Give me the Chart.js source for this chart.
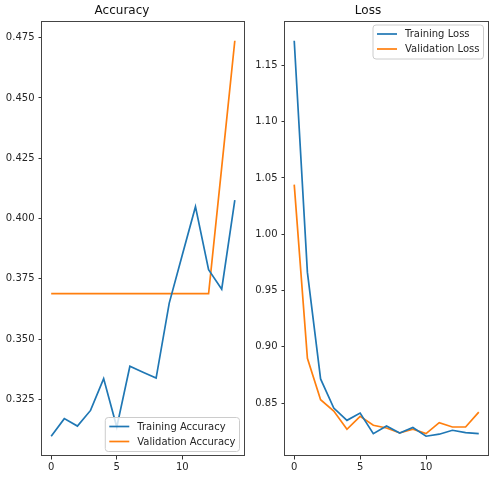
<!DOCTYPE html>
<html>
<head>
<meta charset="utf-8">
<script src="https://cdn.jsdelivr.net/npm/chart.js@4/dist/chart.umd.min.js"></script>
<style>
  body { margin: 0; background: #fff; }
  #wrap { position: relative; width: 496px; height: 478px; }
  canvas { position: absolute; top: 0; }
</style>
</head>
<body>
<div id="wrap">
  <canvas id="accChart" width="248" height="478" style="left:0"></canvas>
  <canvas id="lossChart" width="248" height="478" style="left:248px"></canvas>
</div>
<script>
// Data
const epochs = [0, 1, 2, 3, 4, 5, 6, 7, 8, 9, 10, 11, 12, 13, 14];
const trainAcc = [0.3097, 0.3170, 0.3139, 0.3204, 0.3336, 0.3135, 0.3387, 0.3362, 0.3338, 0.3649, 0.3850, 0.4049, 0.3788, 0.3707, 0.4076];
const valAcc = [0.3688, 0.3688, 0.3688, 0.3688, 0.3688, 0.3688, 0.3688, 0.3688, 0.3688, 0.3688, 0.3688, 0.3688, 0.3688, 0.4212, 0.4737];
const trainLoss = [1.1718, 0.9661, 0.8715, 0.8456, 0.8347, 0.8412, 0.8229, 0.8296, 0.8235, 0.8283, 0.8206, 0.8224, 0.8259, 0.8238, 0.8229];
const valLoss = [1.0441, 0.8898, 0.8530, 0.8430, 0.8268, 0.8382, 0.8303, 0.8279, 0.8235, 0.8268, 0.8229, 0.8326, 0.8288, 0.8288, 0.8420];

const epochTicks = [0, 5, 10];
const accTicks = [0.325, 0.350, 0.375, 0.400, 0.425, 0.450, 0.475];
const lossTicks = [0.85, 0.90, 0.95, 1.00, 1.05, 1.10, 1.15];

const BLUE = '#1f77b4';
const ORANGE = '#ff7f0e';
const FONT = 'DejaVu Sans';

Chart.defaults.font.family = FONT;
Chart.defaults.color = '#262626';

// matplotlib-style 5% margins
function padded(arrs) {
    const all = [].concat(...arrs);
    const lo = Math.min(...all), hi = Math.max(...all);
    const m = (hi - lo) * 0.05;
    return { min: lo - m, max: hi + m };
}

function points(ys) {
    return epochs.map((x, i) => ({ x: x, y: ys[i] }));
}

// frame round the plot area
const framePlugin = {
    id: 'frame',
    afterDatasetsDraw(chart) {
        const a = chart.chartArea, ctx = chart.ctx;
        ctx.save();
        ctx.strokeStyle = '#444';
        ctx.lineWidth = 1;
        ctx.strokeRect(Math.round(a.left) - 0.5, Math.round(a.top) + 0.5,
            Math.round(a.right - a.left) + 1, Math.round(a.bottom - a.top) - 1);
        ctx.restore();
    }
};

// legend inside the axes, like matplotlib
const legendPlugin = {
    id: 'mplLegend',
    afterDraw(chart, args, opts) {
        const a = chart.chartArea, ctx = chart.ctx;
        const items = chart.data.datasets.map(d => ({ label: d.label, color: d.borderColor }));
        ctx.save();
        ctx.font = '10px "' + FONT + '"';
        const textW = Math.max(...items.map(it => ctx.measureText(it.label).width));
        const w = 32 + textW + 4;
        const h = 34;
        const right = a.right - 4.5;
        const left = right - w;
        const top = opts.corner === 'lower right' ? a.bottom - 4.5 - h : a.top + 4;

        ctx.beginPath();
        ctx.roundRect(left, top, w, h, 3);
        ctx.fillStyle = 'rgba(255,255,255,0.8)';
        ctx.fill();
        ctx.strokeStyle = '#cccccc';
        ctx.lineWidth = 1;
        ctx.stroke();

        items.forEach((it, i) => {
            const y = top + 9 + i * 15;
            ctx.beginPath();
            ctx.moveTo(left + 4, y);
            ctx.lineTo(left + 24, y);
            ctx.strokeStyle = it.color;
            ctx.lineWidth = 1.7;
            ctx.stroke();
            ctx.fillStyle = '#262626';
            ctx.textBaseline = 'middle';
            ctx.textAlign = 'left';
            ctx.fillText(it.label, left + 32, y + 0.5);
        });
        ctx.restore();
    }
};

function makeChart(id, title, series, yTicks, yFmt, yWidth, rightPad, corner) {
    const lim = padded(series.map(s => s.data));
    return new Chart(document.getElementById(id), {
        type: 'line',
        data: {
            datasets: series.map(s => ({
                label: s.label,
                data: points(s.data),
                borderColor: s.color,
                backgroundColor: s.color,
                borderWidth: 1.7,
                pointRadius: 0,
                tension: 0,
                fill: false
            }))
        },
        options: {
            responsive: false,
            animation: false,
            layout: { padding: { left: 0, right: rightPad, top: 0, bottom: 0 } },
            plugins: {
                legend: { display: false },
                tooltip: { enabled: false },
                title: {
                    display: true,
                    text: title,
                    color: '#111',
                    font: { size: 12, weight: 'normal' },
                    padding: { top: 4, bottom: 2.6 }
                },
                mplLegend: { corner: corner }
            },
            scales: {
                x: {
                    type: 'linear',
                    min: -0.7,
                    max: 14.7,
                    afterBuildTicks: s => { s.ticks = epochTicks.map(v => ({ value: v })); },
                    afterFit: s => { s.height = 22; },
                    ticks: { padding: 2, font: { size: 10 }, color: '#262626', callback: v => String(v) },
                    grid: { drawOnChartArea: false, drawTicks: true, tickLength: 3.5, color: '#333' },
                    border: { display: false }
                },
                y: {
                    type: 'linear',
                    min: lim.min,
                    max: lim.max,
                    afterBuildTicks: s => { s.ticks = yTicks.map(v => ({ value: v })); },
                    afterFit: s => { s.width = yWidth; },
                    ticks: { padding: 4, font: { size: 10 }, color: '#262626', callback: yFmt },
                    grid: { drawOnChartArea: false, drawTicks: true, tickLength: 3.5, color: '#333' },
                    border: { display: false }
                }
            }
        },
        plugins: [framePlugin, legendPlugin]
    });
}

makeChart('accChart', 'Accuracy', [
    { label: 'Training Accuracy', data: trainAcc, color: BLUE },
    { label: 'Validation Accuracy', data: valAcc, color: ORANGE }
], accTicks, v => v.toFixed(3), 42, 4, 'lower right');

makeChart('lossChart', 'Loss', [
    { label: 'Training Loss', data: trainLoss, color: BLUE },
    { label: 'Validation Loss', data: valLoss, color: ORANGE }
], lossTicks, v => v.toFixed(2), 37, 8, 'upper right');
</script>
</body>
</html>
